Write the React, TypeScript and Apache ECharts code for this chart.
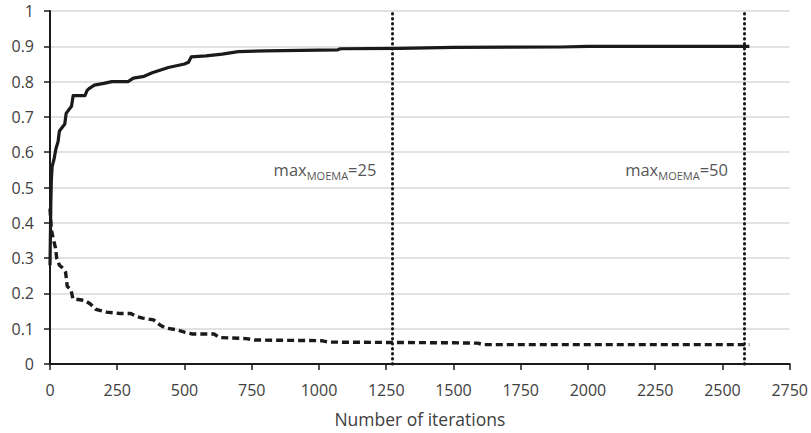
import React, { useEffect, useRef } from "react";
import * as echarts from "echarts";

// Upper (solid) curve: [iteration, value]
const solidSeries: [number, number][] = [
  [0, 0.28], [3, 0.45], [5, 0.52], [8, 0.56], [15, 0.58], [22, 0.61], [30, 0.63],
  [35, 0.66], [45, 0.67], [55, 0.68], [60, 0.71], [70, 0.72], [80, 0.73], [86, 0.76],
  [130, 0.76], [138, 0.775], [145, 0.78], [165, 0.79], [200, 0.795], [230, 0.8],
  [290, 0.8], [310, 0.81], [350, 0.815], [380, 0.825], [400, 0.83], [440, 0.84],
  [470, 0.845], [500, 0.85], [515, 0.855], [525, 0.87], [580, 0.873], [640, 0.878],
  [700, 0.885], [800, 0.887], [1000, 0.889], [1070, 0.89], [1080, 0.893],
  [1300, 0.894], [1500, 0.897], [1900, 0.898], [2000, 0.9], [2600, 0.9],
];

// Lower (dashed) curve: [iteration, value]
const dashedSeries: [number, number][] = [
  [0, 0.44], [5, 0.38], [12, 0.355], [20, 0.33], [25, 0.3], [35, 0.28], [50, 0.27],
  [58, 0.26], [64, 0.22], [78, 0.21], [85, 0.185], [130, 0.18], [150, 0.17],
  [170, 0.155], [210, 0.147], [260, 0.143], [300, 0.143], [320, 0.135], [345, 0.13],
  [385, 0.125], [410, 0.11], [430, 0.102], [470, 0.097], [500, 0.09], [530, 0.085],
  [610, 0.085], [630, 0.075], [730, 0.072], [760, 0.068], [1010, 0.066],
  [1035, 0.062], [1500, 0.06], [1590, 0.059], [1610, 0.055], [2600, 0.055],
];

// Vertical markers
const markerIterations = [1273, 2580];
const markerLabels = ["25", "50"];
const markerLabelY = 0.55;

const xAxisName = "Number of iterations";

export default function App() {
  const ref = useRef<HTMLDivElement>(null);

  useEffect(() => {
    if (!ref.current) return;
    const chart = echarts.init(ref.current, undefined, { renderer: "svg" });
    const font = "'Open Sans', sans-serif";
    const labelColor = "#404040";
    chart.setOption({
      animation: false,
      backgroundColor: "#ffffff",
      grid: { left: 50, right: 19, top: 11, bottom: 68, containLabel: false },
      xAxis: {
        type: "value",
        min: 0,
        max: 2750,
        interval: 250,
        name: xAxisName,
        nameLocation: "middle",
        nameGap: 46,
        nameTextStyle: { fontFamily: font, fontSize: 17.5, color: labelColor },
        axisLine: { show: true, lineStyle: { color: "#1a1a1a", width: 2 } },
        axisTick: { show: true, length: 6, lineStyle: { color: "#1a1a1a", width: 1.5 } },
        axisLabel: {
          fontFamily: font,
          fontSize: 16,
          color: labelColor,
          margin: 18,
          formatter: (v: number) => String(v),
        },
        splitLine: { show: false },
      },
      yAxis: {
        type: "value",
        min: 0,
        max: 1,
        interval: 0.1,
        axisLine: { show: true, lineStyle: { color: "#1a1a1a", width: 2 } },
        axisTick: { show: true, length: 6, lineStyle: { color: "#1a1a1a", width: 1.5 } },
        axisLabel: {
          fontFamily: font,
          fontSize: 16,
          color: labelColor,
          margin: 16,
          showMaxLabel: true,
          formatter: (v: number) => String(Math.round(v * 10) / 10),
        },
        splitLine: { show: true, lineStyle: { color: "#d9d9d9", width: 1.5 } },
      },
      series: [
        {
          type: "line",
          data: solidSeries,
          showSymbol: false,
          symbol: "none",
          lineStyle: { color: "#1a1a1a", width: 3.2, join: "round" },
          z: 3,
        },
        {
          type: "line",
          data: dashedSeries,
          showSymbol: false,
          symbol: "none",
          lineStyle: { color: "#1a1a1a", width: 3.4, type: [7, 4] },
          z: 3,
          markLine: {
            silent: true,
            symbol: ["none", "none"],
            label: { show: false },
            lineStyle: { color: "#1a1a1a", width: 3, type: [0.5, 4.5], cap: "round" },
            data: markerIterations.map((x) => ({ xAxis: x })),
          },
        },
        {
          type: "scatter",
          symbolSize: 0,
          silent: true,
          data: markerIterations.map((x) => [x, markerLabelY]),
          label: {
            show: true,
            position: "left",
            distance: 16,
            formatter: (p: any) =>
              `{m|max}{s|MOEMA}{m|=${markerLabels[p.dataIndex]}}`,
            rich: {
              m: { fontFamily: font, fontSize: 16.5, color: "#262626", lineHeight: 22, verticalAlign: "middle" },
              s: { fontFamily: font, fontSize: 11, color: "#262626", lineHeight: 8, verticalAlign: "bottom" },
            },
          },
        },
      ],
    });
    return () => chart.dispose();
  }, []);

  return (
    <div
      ref={ref}
      style={{ position: "absolute", left: 0, top: 0, width: 811, height: 433 }}
    />
  );
}
